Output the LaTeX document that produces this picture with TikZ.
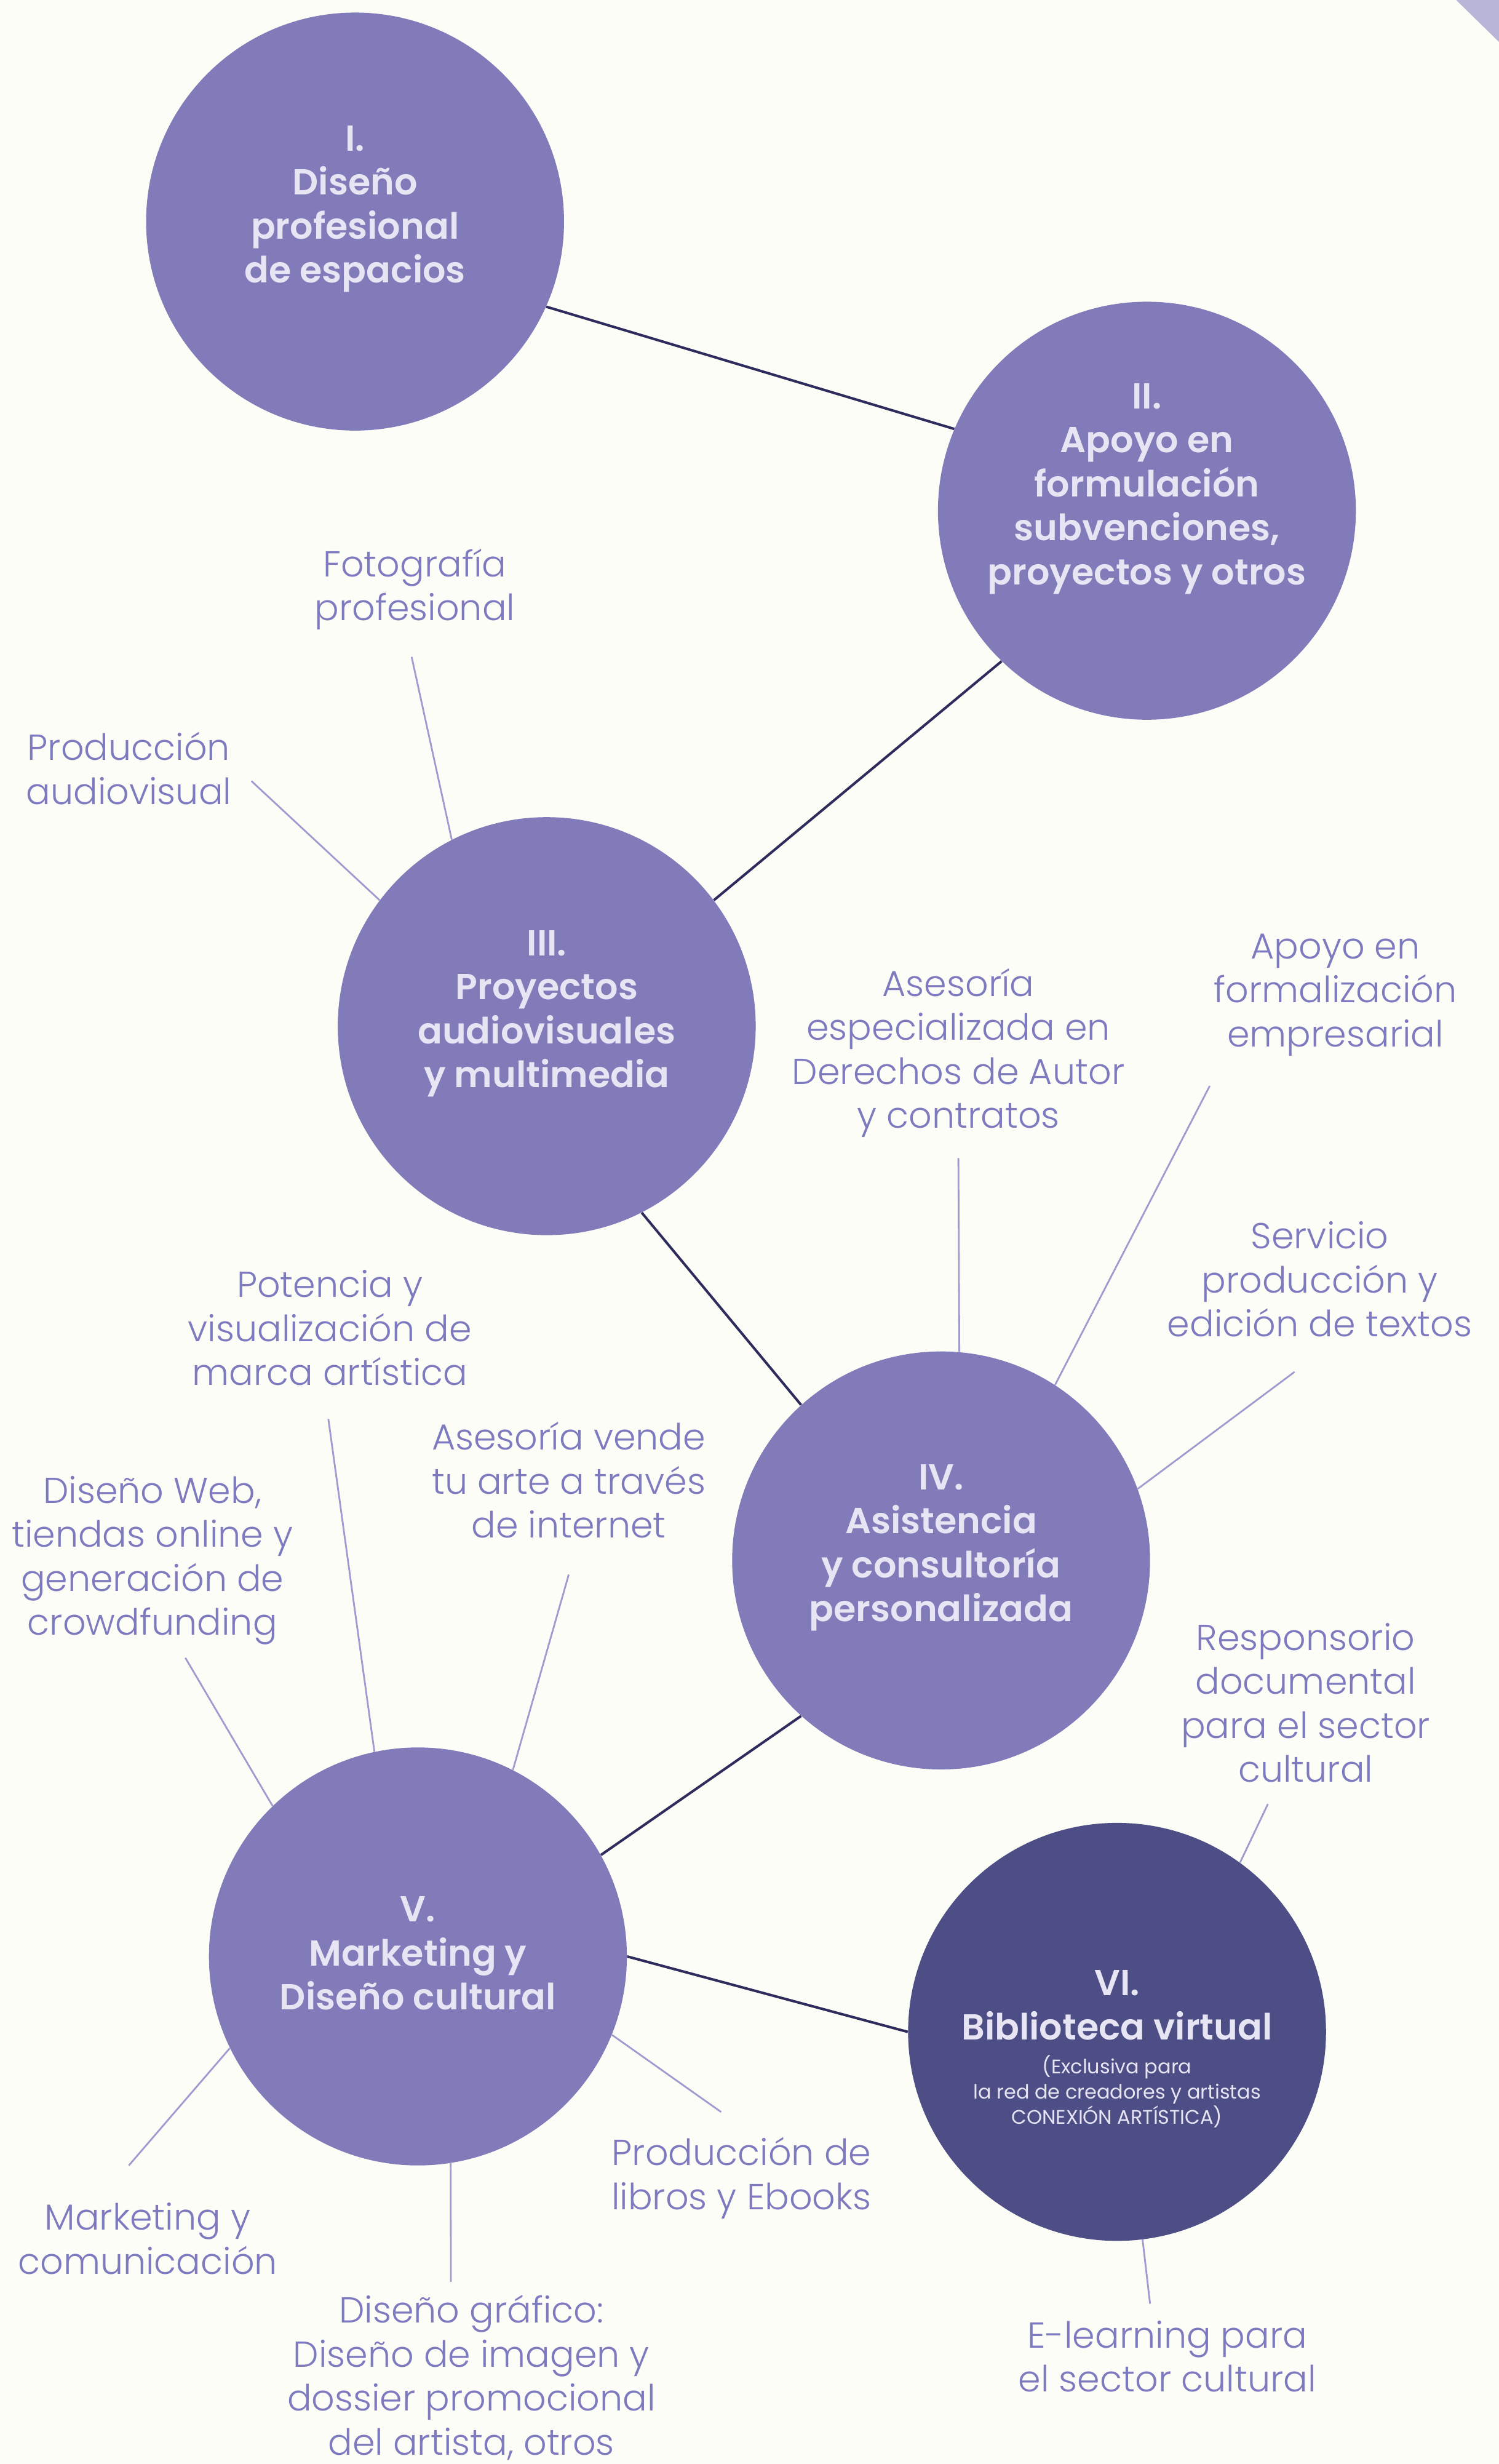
\documentclass[tikz,border=0pt]{standalone}
\usepackage{fontspec}
\setmainfont{Poppins}
\newfontfamily\lightfont{Poppins Light}
\newfontfamily\semifont{Poppins SemiBold}
\usepackage{xcolor}
\usepackage{tikz}
\usetikzlibrary{
arrows.meta,
positioning,
calc
}
\definecolor{mapbg}{HTML}{FDFDF7}
\definecolor{mapviolet}{HTML}{817CB9}
\definecolor{mapdark}{HTML}{4D4E85}
\definecolor{maptext}{HTML}{E7E5F4}
\definecolor{mapsat}{HTML}{7E7ABF}
\definecolor{maptwig}{HTML}{9E9BD1}
\definecolor{mapline}{HTML}{2E2C5C}
\definecolor{mapcorner}{HTML}{B8B5D8}

\begin{document}
\begin{tikzpicture}[
  x=1pt, y=-1pt,
  circ/.style={circle, fill=mapviolet, minimum size=266pt, inner sep=0pt},
  circtxt/.style={align=center, text=maptext, inner sep=0pt, font=\semifont\fontsize{23}{28}\selectfont},
  sat/.style={align=center, text=mapsat, inner sep=0pt, font=\lightfont\fontsize{23}{28}\selectfont},
  link/.style={line width=1.6pt, mapline},
  twig/.style={line width=1.1pt, maptwig}
]

% Background
\fill[mapbg] (0,0) rectangle (954,1568);
\useasboundingbox (0,0) rectangle (954,1568);
\fill[mapcorner] (926.8,0) -- (954,0) -- (954,26.6) -- cycle;

% Circles
\node[circ] (espacios) at (226,141) {};
\node[circ] (subvenc) at (730,325) {};
\node[circ] (multimedia) at (348,653) {};
\node[circ] (asistencia) at (599,993) {};
\node[circ] (cultural) at (266,1245) {};
\node[circ, fill=mapdark] (biblio) at (711,1293) {};

% Links between circles
\draw[link] (espacios.336) -- (subvenc.157);
\draw[link] (subvenc.226) -- (multimedia.37);
\draw[link] (multimedia.297) -- (asistencia.132);
\draw[link] (asistencia.228) -- (cultural.29);
\draw[link] (cultural.0) -- (biblio.180);

% Circle texts
\node[circtxt] (espacios-t) at (226,133) {I.\\Diseño\\profesional\\de espacios};
\node[circtxt] (subvenc-t) at (730,311) {II.\\Apoyo en\\formulación\\subvenciones,\\proyectos y otros};
\node[circtxt] (multimedia-t) at (348,645) {III.\\Proyectos\\audiovisuales\\y multimedia};
\node[circtxt] (asistencia-t) at (599,985) {IV.\\Asistencia\\y consultoría\\personalizada};
\node[circtxt] (cultural-t) at (266,1243) {V.\\Marketing y\\Diseño cultural};
\node[circtxt] (biblio-t) at (711,1276) {VI.\\Biblioteca virtual};
\node[align=center, text=maptext, inner sep=0pt, font=\fontsize{12.5}{16}\selectfont] (biblio-n) at (711,1331)
  {(Exclusiva para\\la red de creadores y artistas\\CONEXIÓN ARTÍSTICA)};

% Satellite services
\node[sat] (foto) at (264,375) {Fotografía\\profesional};
\node[sat] (audiovisual) at (82,489) {Producción\\audiovisual};
\node[sat] (derechos) at (610,670) {Asesoría\\especializada en\\Derechos de Autor\\y contratos};
\node[sat] (formal) at (850,633) {Apoyo en\\formalización\\empresarial};
\node[sat] (textos) at (840,814) {Servicio\\producción y\\edición de textos};
\node[sat] (marca) at (210,845) {Potencia y\\visualización de\\marca artística};
\node[sat] (vende) at (362,942) {Asesoría vende\\tu arte a través\\de internet};
\node[sat] (web) at (97,993) {Diseño Web,\\tiendas online y\\generación de\\crowdfunding};
\node[sat] (mkt) at (94,1424.5) {Marketing y\\comunicación};
\node[sat] (grafico) at (300,1513) {Diseño gráfico:\\Diseño de imagen y\\dossier promocional\\del artista, otros};
\node[sat] (libros) at (472,1386) {Producción de\\libros y Ebooks};
\node[sat] (respons) at (831,1083.5) {Responsorio\\documental\\para el sector\\cultural};
\node[sat] (elearn) at (743,1499.5) {E-learning para\\el sector cultural};

% Twig ends near the texts
\coordinate (foto-e) at (262,418);
\coordinate (audiovisual-e) at (160,497);
\coordinate (derechos-e) at (610,737);
\coordinate (formal-e) at (770,691);
\coordinate (textos-e) at (824,873);
\coordinate (marca-e) at (209,903);
\coordinate (vende-e) at (362,1002);
\coordinate (web-e) at (118,1055);
\coordinate (mkt-e) at (82,1378);
\coordinate (grafico-e) at (287,1452);
\coordinate (libros-e) at (459,1344);
\coordinate (respons-e) at (807,1148);
\coordinate (elearn-e) at (732,1466);

% Twigs
\draw[twig] (foto-e) -- (multimedia.117);
\draw[twig] (audiovisual-e) -- (multimedia.143);
\draw[twig] (derechos-e) -- (asistencia.85);
\draw[twig] (formal-e) -- (asistencia.57);
\draw[twig] (textos-e) -- (asistencia.20);
\draw[twig] (marca-e) -- (cultural.102);
\draw[twig] (vende-e) -- (cultural.63);
\draw[twig] (web-e) -- (cultural.134);
\draw[twig] (mkt-e) -- (cultural.206);
\draw[twig] (grafico-e) -- (cultural.279);
\draw[twig] (libros-e) -- (cultural.338);
\draw[twig] (respons-e) -- (biblio.54);
\draw[twig] (elearn-e) -- (biblio.277);

\end{tikzpicture}
\end{document}
